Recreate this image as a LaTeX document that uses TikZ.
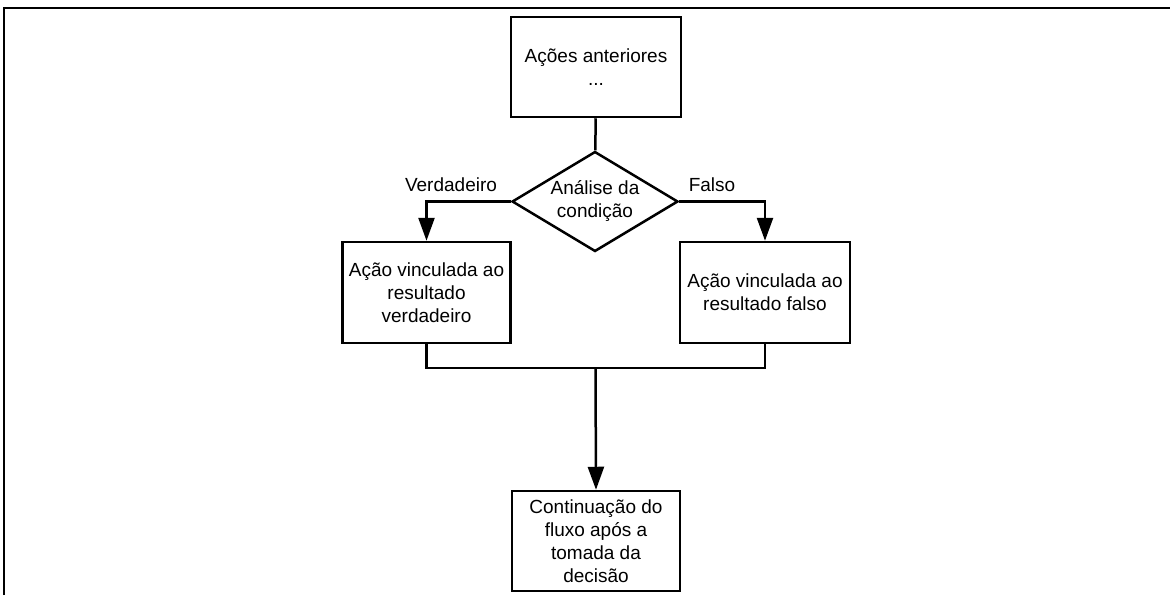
\documentclass[tikz,border=0pt]{standalone}
\usepackage{fontspec}
\setmainfont{Liberation Sans}
\usetikzlibrary{shapes.geometric,arrows.meta}
\begin{document}
\begin{tikzpicture}[x=1pt,y=-1pt,line width=2.5pt,
  caixa/.style={draw,rectangle,align=center,inner sep=0pt,minimum width=168pt,minimum height=101pt},
  decisao/.style={draw,diamond,aspect=1.66,align=center,inner sep=0pt,minimum width=166pt,minimum height=100pt},
  seta/.style={-{Triangle[length=23pt,width=16pt]}},
  font=\fontsize{19}{23}\selectfont]
\useasboundingbox(0,0)rectangle(1170,595);
\draw[line width=1.5pt](4,595)--(4,8)--(1170,8);%moldura
\node[caixa,minimum width=170pt,minimum height=100pt](anteriores)at(596,67){Ações anteriores\\...};
\node[decisao](condicao)at(595,201.5){Análise da\\condição};
\node[caixa](verdadeiro)at(426.5,292.5){Ação vinculada ao\\resultado\\verdadeiro};
\node[caixa,minimum width=170pt](falso)at(765,292.5){Ação vinculada ao\\resultado falso};
\node[caixa,minimum height=100pt](continuacao)at(596,541){Continuação do\\fluxo após a\\tomada da\\decisão};
\node(rotv)at(451,185){Verdadeiro};
\node(rotf)at(712,185){Falso};
\coordinate(juncao)at(595.5,368);
\draw(anteriores)--(condicao);
\draw[seta](condicao.west)-|(verdadeiro.north);%verdadeiro
\draw[seta](condicao.east)-|(falso.north);%falso
\draw(verdadeiro.south)|-(juncao)-|(falso.south);
\draw[seta](juncao)--(continuacao.north);
\end{tikzpicture}
\end{document}
